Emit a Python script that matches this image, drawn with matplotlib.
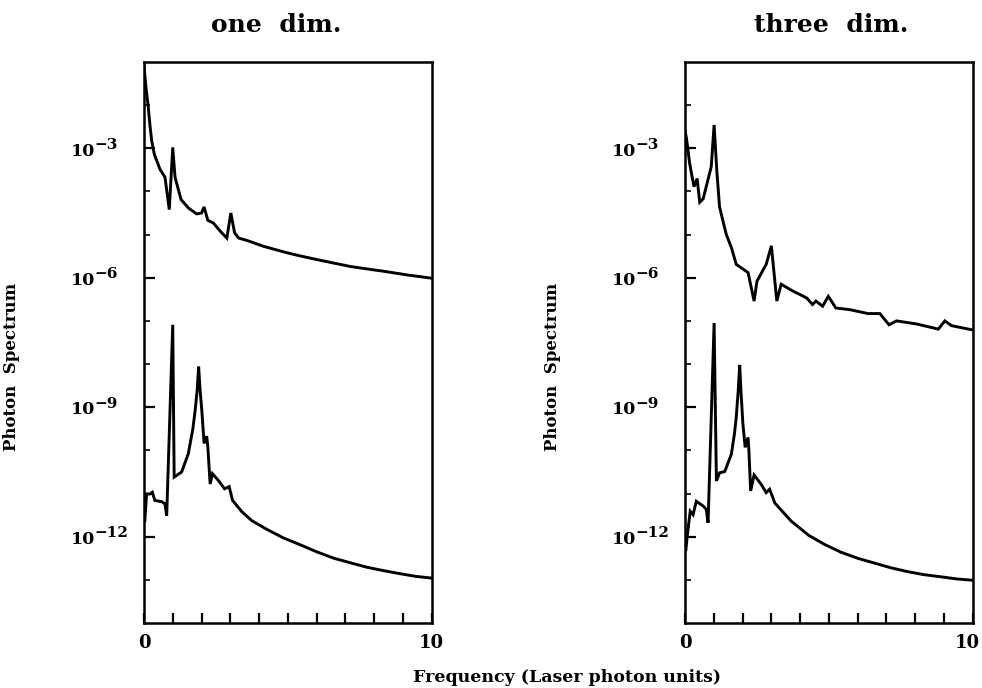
import numpy as np
import matplotlib
matplotlib.use("Agg")
import matplotlib.pyplot as plt
import matplotlib.transforms as mtransforms
from matplotlib.ticker import FixedLocator, NullFormatter

plt.rcParams['font.family'] = ['DejaVu Serif']

# frequency (laser photon units) and log10 of the photon spectrum
one_hi_x = [0.0, 0.07, 0.15, 0.21, 0.27, 0.36, 0.56, 0.73, 0.88, 1.00, 1.08, 1.29, 1.54, 1.83, 2.00, 2.09,
            2.22, 2.41, 2.65, 2.88, 3.02, 3.15, 3.29, 3.6, 4.15, 4.85, 5.4, 6.02, 6.6, 7.18, 7.8, 8.34,
            9.2, 10.0]
one_hi_lg = [-1.1, -1.59, -2.05, -2.48, -2.83, -3.14, -3.49, -3.67, -4.42, -2.98, -3.67, -4.19, -4.38,
             -4.52, -4.50, -4.36, -4.67, -4.73, -4.92, -5.08, -4.50, -4.96, -5.08, -5.14, -5.27, -5.40,
             -5.49, -5.58, -5.66, -5.74, -5.80, -5.85, -5.94, -6.01]

one_lo_x = [0.03, 0.09, 0.21, 0.29, 0.38, 0.62, 0.73, 0.79, 1.00, 1.05, 1.31, 1.54, 1.70, 1.78, 1.85,
            1.90, 1.95, 2.01, 2.09, 2.18, 2.22, 2.30, 2.38, 2.59, 2.80, 2.96, 3.08, 3.4, 3.75, 4.27,
            4.85, 5.44, 6.0, 6.6, 7.2, 7.76, 8.35, 8.92, 9.45, 10.0]
one_lo_lg = [-11.63, -11.01, -11.01, -10.97, -11.16, -11.19, -11.24, -11.51, -7.09, -10.62, -10.50,
             -10.08, -9.5, -9.07, -8.6, -8.06, -8.6, -9.07, -9.84, -9.67, -9.92, -10.78, -10.54,
             -10.70, -10.89, -10.84, -11.16, -11.42, -11.63, -11.83, -12.03, -12.19, -12.35, -12.50,
             -12.61, -12.71, -12.79, -12.86, -12.92, -12.96]

three_hi_x = [0.0, 0.05, 0.16, 0.31, 0.42, 0.51, 0.63, 0.91, 1.01, 1.11, 1.20, 1.43, 1.61, 1.78, 2.19,
              2.40, 2.50, 2.82, 3.00, 3.19, 3.34, 3.75, 4.00, 4.23, 4.43, 4.55, 4.78, 4.98, 5.24,
              5.73, 6.36, 6.77, 7.09, 7.35, 8.04, 8.80, 9.03, 9.26, 10.0]
three_hi_lg = [-2.6, -2.77, -3.35, -3.89, -3.70, -4.25, -4.17, -3.43, -2.46, -3.58, -4.36, -4.99, -5.30,
               -5.69, -5.88, -6.54, -6.08, -5.69, -5.26, -6.54, -6.15, -6.31, -6.39, -6.47, -6.62,
               -6.54, -6.66, -6.43, -6.70, -6.74, -6.83, -6.83, -7.09, -7.00, -7.07, -7.19, -7.00,
               -7.11, -7.21]

three_lo_x = [0.03, 0.08, 0.18, 0.28, 0.39, 0.63, 0.74, 0.80, 1.01, 1.09, 1.20, 1.38, 1.61, 1.72, 1.78,
              1.85, 1.90, 1.95, 2.01, 2.09, 2.19, 2.22, 2.28, 2.40, 2.65, 2.82, 2.94, 3.12, 3.69, 4.3,
              4.85, 5.42, 6.0, 6.57, 7.15, 7.73, 8.3, 8.89, 9.45, 10.0]
three_lo_lg = [-12.3, -11.96, -11.41, -11.49, -11.18, -11.29, -11.37, -11.68, -7.05, -10.71, -10.52,
               -10.49, -10.09, -9.6, -9.23, -8.6, -8.02, -8.7, -9.38, -9.93, -9.70, -10.01, -10.94,
               -10.57, -10.79, -10.98, -10.90, -11.22, -11.64, -11.97, -12.18, -12.36, -12.50,
               -12.61, -12.72, -12.81, -12.88, -12.93, -12.98, -13.01]

titles = ["one  dim.", "three  dim."]
title_x = [0.281, 0.846]
ytick_exp = [-12, -9, -6, -3]
panels = [(one_hi_x, one_hi_lg, one_lo_x, one_lo_lg),
          (three_hi_x, three_hi_lg, three_lo_x, three_lo_lg)]

fig = plt.figure(figsize=(9.82, 6.88), dpi=100)
lefts = [0.1466, 0.6976]
axes = []

for left, tx, title, (hx, hy, lx, ly) in zip(lefts, title_x, titles, panels):
    ax = fig.add_axes([left, 0.0945, 0.293, 0.8154])
    axes.append(ax)
    ax.plot(hx, 10.0 ** np.array(hy), color='black', lw=2.1, solid_joinstyle='miter')
    ax.plot(lx, 10.0 ** np.array(ly), color='black', lw=2.1, solid_joinstyle='miter')
    ax.set_yscale('log')
    ax.set_xlim(0, 10)
    ax.set_ylim(1e-14, 1e-1)
    for s in ax.spines.values():
        s.set_linewidth(1.8)

    ax.set_xticks(range(11))
    ax.set_xticklabels(['0'] + [''] * 9 + ['10'])
    ax.set_yticks([10.0 ** e for e in ytick_exp])
    ax.set_yticklabels([])
    minors = [10.0 ** k for k in range(-13, -1) if k % 3 != 0]
    ax.yaxis.set_minor_locator(FixedLocator(minors))
    ax.yaxis.set_minor_formatter(NullFormatter())
    ax.tick_params(axis='y', which='major', direction='in', length=8, width=1.6, right=False)
    ax.tick_params(axis='y', which='minor', direction='in', length=4, width=1.2, right=False)
    ax.tick_params(axis='x', which='major', direction='in', length=7, width=1.6,
                   pad=8, labelsize=13, top=False)
    for t in ax.get_xticklabels():
        t.set_fontweight('bold')

    # power-of-ten labels with a large exponent
    for e in ytick_exp:
        ax.annotate('10', xy=(0, 10.0 ** e), xycoords=('axes fraction', 'data'),
                    xytext=(-35, -2), textcoords='offset points', ha='right', va='center',
                    fontsize=12.5, fontweight='bold', annotation_clip=False)
        ax.annotate('\u2212%d' % -e, xy=(0, 10.0 ** e), xycoords=('axes fraction', 'data'),
                    xytext=(-35.5, 2.5), textcoords='offset points', ha='left', va='center',
                    fontsize=11, fontweight='bold', annotation_clip=False)

    ax.set_ylabel('Photon  Spectrum', fontsize=12, fontweight='bold')
    ax.yaxis.set_label_coords(-0.43, 0.456)

    fig.text(tx, 0.964, title, ha='center', va='center', fontsize=18, fontweight='bold')

# keep the last "10" inside the figure edge
last = axes[1].get_xticklabels()[-1]
last.set_transform(last.get_transform() +
                   mtransforms.ScaledTranslation(-4 / 72, 0, fig.dpi_scale_trans))

fig.text(0.577, 0.015, 'Frequency (Laser photon units)', ha='center', va='center',
         fontsize=12.5, fontweight='bold')

fig.savefig('out.png', dpi=100)
